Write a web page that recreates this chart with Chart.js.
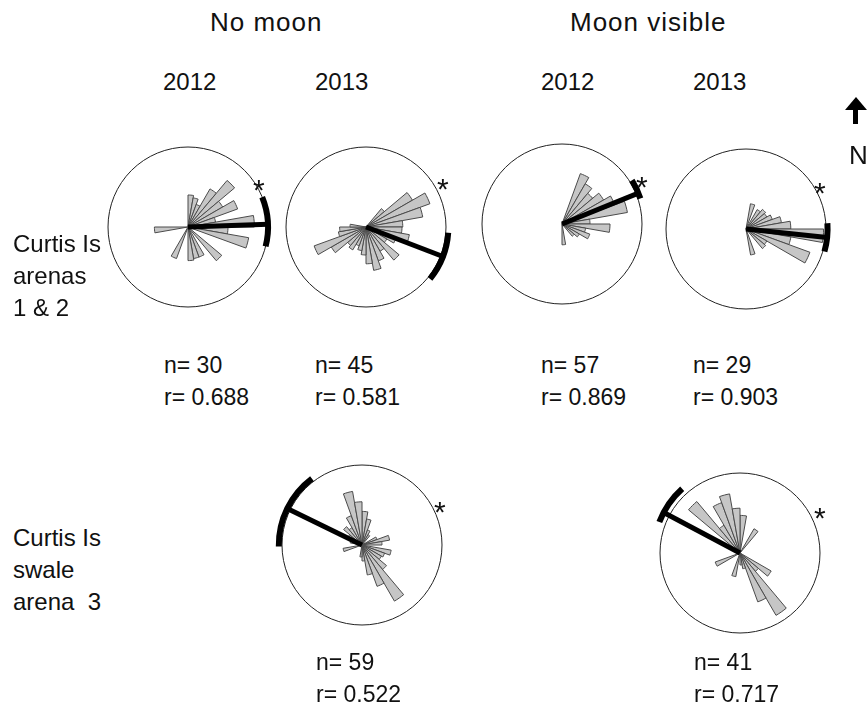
<!DOCTYPE html>
<html>
<head>
<meta charset="utf-8">
<script src="https://cdn.jsdelivr.net/npm/chart.js@4.4.0/dist/chart.umd.min.js"></script>
<style>
  body { margin: 0; background: #fff; }
  #page { position: relative; width: 868px; height: 704px; overflow: hidden;
          font-family: "Liberation Sans", Arial, sans-serif; color: #111; }
  #page canvas { position: absolute; }
  .t { position: absolute; white-space: pre; line-height: 1; z-index: 2; }
  .head { font-size: 26px; letter-spacing: 1px; }
  .year { font-size: 24px; }
  .stat { font-size: 23px; line-height: 32px; }
  .row { font-size: 24px; line-height: 32px; }
  .star { font-size: 30px; }
</style>
</head>
<body>
<div id="page">
  <div class="t head" style="left:210px;top:9px;">No moon</div>
  <div class="t head" style="left:570px;top:9px;">Moon visible</div>

  <div class="t year" style="left:163px;top:70px;">2012</div>
  <div class="t year" style="left:315px;top:70px;">2013</div>
  <div class="t year" style="left:541px;top:70px;">2012</div>
  <div class="t year" style="left:693px;top:70px;">2013</div>

  <div style="position:absolute;left:845px;top:97px;width:0;height:0;border-left:11px solid transparent;border-right:11px solid transparent;border-bottom:13px solid #000;"></div>
  <div style="position:absolute;left:853px;top:109px;width:5px;height:15px;background:#000;"></div>
  <div class="t" style="left:849px;top:142px;font-size:26px;">N</div>

  <div class="t row" style="left:13px;top:228px;">Curtis Is
arenas
1 &amp; 2</div>
  <div class="t row" style="left:13px;top:522px;">Curtis Is
swale
arena  3</div>

  <div class="t stat" style="left:164px;top:349px;">n= 30
r= 0.688</div>
  <div class="t stat" style="left:315px;top:349px;">n= 45
r= 0.581</div>
  <div class="t stat" style="left:541px;top:349px;">n= 57
r= 0.869</div>
  <div class="t stat" style="left:693px;top:349px;">n= 29
r= 0.903</div>
  <div class="t stat" style="left:316px;top:646px;">n= 59
r= 0.522</div>
  <div class="t stat" style="left:694px;top:646px;">n= 41
r= 0.717</div>

  <div class="t star" style="left:253px;top:175px;">*</div>
  <div class="t star" style="left:437px;top:174px;">*</div>
  <div class="t star" style="left:636px;top:172px;">*</div>
  <div class="t star" style="left:814px;top:178px;">*</div>
  <div class="t star" style="left:434px;top:497px;">*</div>
  <div class="t star" style="left:814px;top:503px;">*</div>

  <canvas id="c1" width="240" height="240" style="left:68px;top:107px;"></canvas>
  <canvas id="c2" width="240" height="240" style="left:246px;top:107px;"></canvas>
  <canvas id="c3" width="240" height="240" style="left:442px;top:104px;"></canvas>
  <canvas id="c4" width="240" height="240" style="left:626px;top:109px;"></canvas>
  <canvas id="c5" width="240" height="240" style="left:242px;top:425px;"></canvas>
  <canvas id="c6" width="240" height="240" style="left:620px;top:433px;"></canvas>
</div>
<script>
// 10 degree direction bins, clockwise from north
const binLabels = ['0','10','20','30','40','50','60','70','80','90','100','110',
  '120','130','140','150','160','170','180','190','200','210','220','230',
  '240','250','260','270','280','290','300','310','320','330','340','350'];

// bar length as a fraction of the circle radius
const noMoon2012 = [0.40,0.37,0.30,0.55,0.76,0.50,0.66,0.35,0.83,0.50,0.77,0,
  0,0.55,0,0.40,0.40,0.42,0,0,0.42,0,0,0,
  0,0,0.42,0,0,0,0,0,0,0,0,0];
const noMoon2013 = [0,0,0,0,0.30,0.67,0.85,0.72,0.46,0.45,0.55,0.40,
  0.30,0.54,0.35,0.45,0.55,0.46,0.35,0.30,0.25,0.33,0.30,0.50,
  0.69,0.35,0.33,0.20,0,0,0,0,0,0,0,0];
const moon2012 = [0,0,0.67,0.58,0.50,0.60,0.70,0.83,0.35,0.60,0.30,0.37,
  0.25,0.20,0,0,0,0.26,0,0,0,0,0,0,
  0,0,0,0,0,0,0,0,0,0,0,0];
const moon2013 = [0,0.32,0,0.28,0.32,0.30,0.35,0.45,0.56,0.97,0.57,0.85,
  0.30,0.32,0,0,0.33,0,0,0,0,0,0,0,
  0,0,0,0,0,0,0,0,0,0,0,0];
const swaleNoMoon = [0.42,0.33,0.20,0.15,0,0,0.20,0.35,0.25,0,0.37,0.30,
  0.28,0.40,0.81,0.55,0.38,0.20,0.15,0,0,0,0,0,
  0,0.24,0,0,0.15,0,0.20,0.30,0.25,0.39,0.68,0.54];
const swaleMoon = [0.47,0,0,0.35,0,0,0,0,0,0,0,0,
  0.45,0.30,0.90,0.65,0.20,0.15,0,0.30,0,0,0,0,
  0.33,0,0,0,0,0,0,0.84,0.40,0.67,0.75,0.56];

// mean direction (deg) and its confidence interval
const meanDir = [88, 111, 68, 96, 296, 298];
const ciLow   = [68, 94, 58, 86, 269, 291];
const ciHigh  = [104, 129, 72, 106, 323, 318];

const panels = [noMoon2012, noMoon2013, moon2012, moon2013, swaleNoMoon, swaleMoon];
const arcReach = [1.0, 1.03, 1.03, 1.02, 1.04, 1.08];

const meanVector = {
  id: 'meanVector',
  afterDatasetsDraw(chart, args, o) {
    const s = chart.scales.r;
    const step = 360 / binLabels.length;
    const tip = s.getPointPositionForValue(o.angle / step, o.reach);
    const ctx = chart.ctx;
    ctx.save();
    ctx.strokeStyle = '#000';
    ctx.lineCap = 'butt';
    ctx.lineWidth = 5;
    ctx.beginPath();
    ctx.moveTo(s.xCenter, s.yCenter);
    ctx.lineTo(tip.x, tip.y);
    ctx.stroke();
    ctx.lineWidth = 6;
    ctx.beginPath();
    ctx.arc(s.xCenter, s.yCenter, s.getDistanceFromCenterForValue(o.reach),
      s.getIndexAngle(o.lo / step) - Math.PI / 2,
      s.getIndexAngle(o.hi / step) - Math.PI / 2);
    ctx.stroke();
    ctx.restore();
  }
};

panels.forEach((vals, i) => {
  new Chart(document.getElementById('c' + (i + 1)), {
    type: 'polarArea',
    data: {
      labels: binLabels,
      datasets: [{
        data: vals,
        backgroundColor: '#c6c6c6',
        borderColor: '#4a4a4a',
        borderWidth: 1
      }]
    },
    options: {
      responsive: false,
      animation: false,
      events: [],
      layout: { padding: 40 },
      scales: {
        r: {
          min: 0,
          max: 1,
          ticks: { display: false, stepSize: 1 },
          grid: { color: '#222', lineWidth: 1 },
          angleLines: { display: false },
          pointLabels: { display: false }
        }
      },
      plugins: {
        legend: { display: false },
        tooltip: { enabled: false },
        meanVector: { angle: meanDir[i], lo: ciLow[i], hi: ciHigh[i], reach: arcReach[i] }
      }
    },
    plugins: [meanVector]
  });
});
</script>
</body>
</html>
